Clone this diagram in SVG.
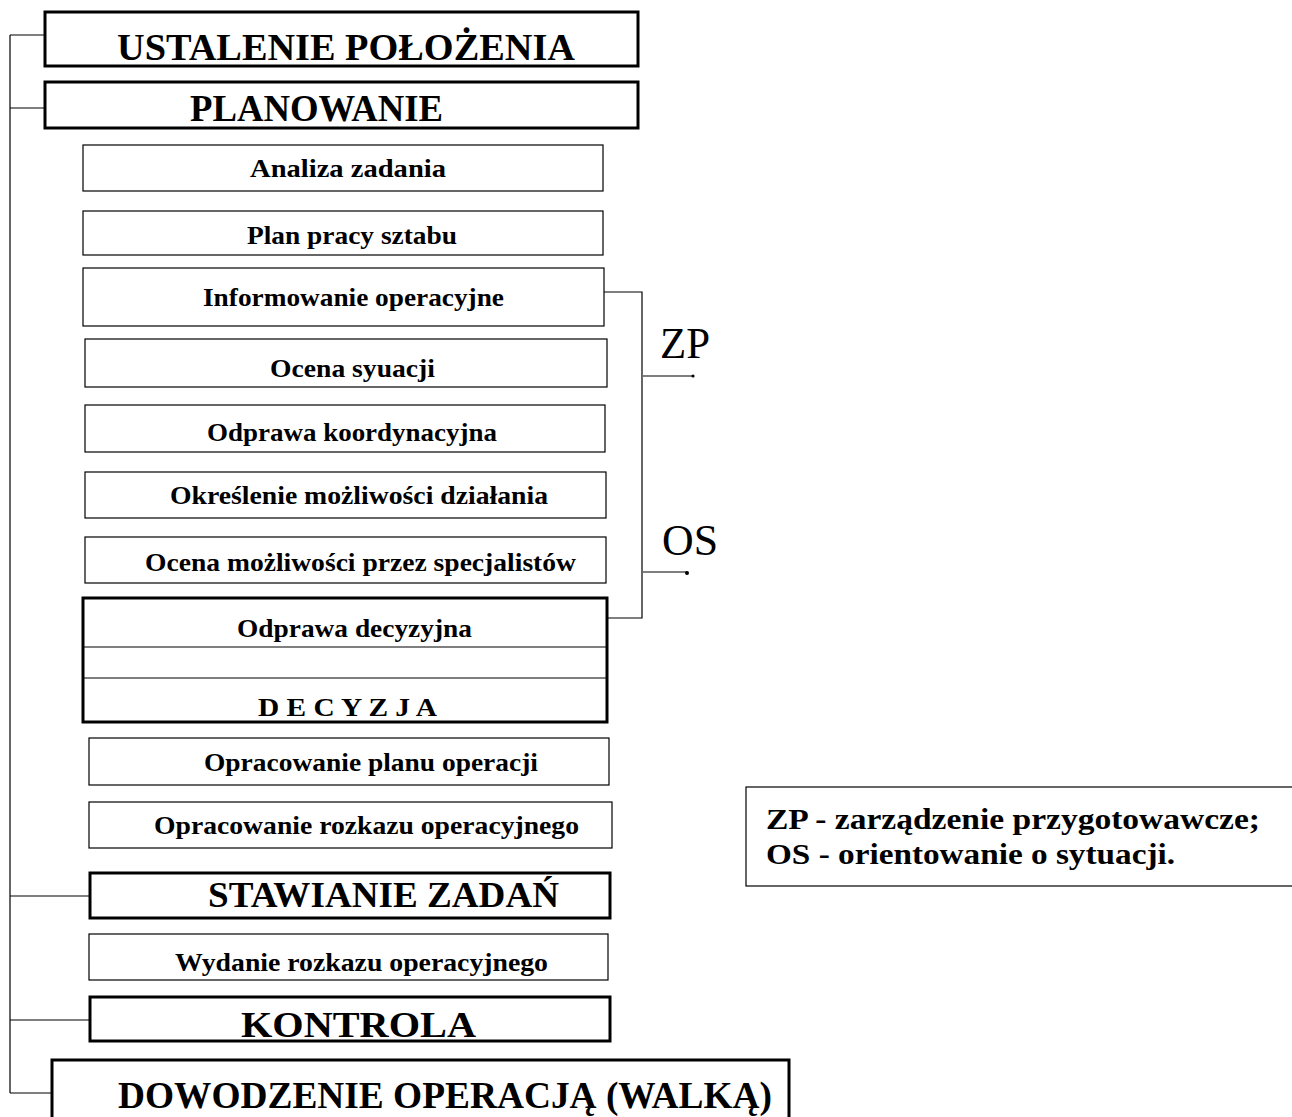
<svg xmlns="http://www.w3.org/2000/svg" width="1292" height="1117" viewBox="0 0 1292 1117">
  <style>
    .box { fill: #fff; stroke: #000; stroke-width: 1.2; }
    .main { fill: #fff; stroke: #000; stroke-width: 3; }
    .conn { fill: none; stroke: #000; stroke-width: 1.2; }
    text { font-family: "Liberation Serif", "Times New Roman", serif; fill: #000; }
    .big { font-weight: bold; font-size: 38px; }
    .sub { font-weight: bold; font-size: 26px; }
    .tag { font-size: 45px; }
    .legend { font-weight: bold; font-size: 30px; }
  </style>
  <rect width="1292" height="1117" fill="#fff"/>

  <!-- connectors: left spine with branches, right bracket ZP / OS -->
  <g id="connectors">
    <path class="conn" d="M10 35 V1093 M10 35 H45 M10 108 H45 M10 896 H90 M10 1020 H90 M10 1093 H52"/>
    <path class="conn" d="M604 292 H642 V618 H607"/>
    <path class="conn" d="M643 376 H693"/>
    <circle cx="693" cy="376" r="1.6" fill="#000"/>
    <path class="conn" d="M643 572 H687"/>
    <circle cx="687" cy="573" r="2" fill="#000"/>
    <text class="tag" x="660" y="358" textLength="50" lengthAdjust="spacingAndGlyphs">ZP</text>
    <text class="tag" x="662" y="555" textLength="56" lengthAdjust="spacingAndGlyphs">OS</text>
  </g>

  <g id="ustalenie">
    <rect class="main" x="45" y="12" width="593" height="54"/>
    <text class="big" x="117" y="60" textLength="458" lengthAdjust="spacingAndGlyphs">USTALENIE  POŁOŻENIA</text>
  </g>
  <g id="planowanie">
    <rect class="main" x="45" y="82" width="593" height="46"/>
    <text class="big" x="190" y="121" textLength="253" lengthAdjust="spacingAndGlyphs">PLANOWANIE</text>
  </g>
  <g id="analiza">
    <rect class="box" x="83" y="145" width="520" height="46"/>
    <text class="sub" x="250" y="177" textLength="196" lengthAdjust="spacingAndGlyphs">Analiza  zadania</text>
  </g>
  <g id="plan-pracy">
    <rect class="box" x="83" y="211" width="520" height="44"/>
    <text class="sub" x="247" y="244" textLength="210" lengthAdjust="spacingAndGlyphs">Plan pracy sztabu</text>
  </g>
  <g id="informowanie">
    <rect class="box" x="83" y="268" width="521" height="58"/>
    <text class="sub" x="203" y="306" textLength="301" lengthAdjust="spacingAndGlyphs">Informowanie operacyjne</text>
  </g>
  <g id="ocena">
    <rect class="box" x="85" y="339" width="522" height="48"/>
    <text class="sub" x="270" y="377" textLength="165" lengthAdjust="spacingAndGlyphs">Ocena syuacji</text>
  </g>
  <g id="odprawa-koord">
    <rect class="box" x="85" y="405" width="520" height="47"/>
    <text class="sub" x="207" y="441" textLength="290" lengthAdjust="spacingAndGlyphs">Odprawa koordynacyjna</text>
  </g>
  <g id="okreslenie">
    <rect class="box" x="85" y="472" width="521" height="46"/>
    <text class="sub" x="170" y="504" textLength="378" lengthAdjust="spacingAndGlyphs">Określenie możliwości działania</text>
  </g>
  <g id="ocena-spec">
    <rect class="box" x="85" y="537" width="521" height="46"/>
    <text class="sub" x="145" y="571" textLength="431" lengthAdjust="spacingAndGlyphs">Ocena możliwości przez specjalistów</text>
  </g>
  <g id="decyzja">
    <rect class="main" x="83" y="598" width="524" height="124"/>
    <path class="conn" d="M84 647 H606 M84 678 H606"/>
    <text class="sub" x="237" y="637" textLength="235" lengthAdjust="spacingAndGlyphs">Odprawa decyzyjna</text>
    <text class="sub" x="258" y="716" textLength="179" lengthAdjust="spacingAndGlyphs">D E C Y Z J A</text>
  </g>
  <g id="plan-operacji">
    <rect class="box" x="89" y="738" width="520" height="47"/>
    <text class="sub" x="204" y="771" textLength="334" lengthAdjust="spacingAndGlyphs">Opracowanie planu operacji</text>
  </g>
  <g id="rozkaz">
    <rect class="box" x="89" y="802" width="523" height="46"/>
    <text class="sub" x="154" y="834" textLength="425" lengthAdjust="spacingAndGlyphs">Opracowanie rozkazu operacyjnego</text>
  </g>
  <g id="stawianie">
    <rect class="main" x="90" y="873" width="520" height="45"/>
    <text class="big" x="208" y="907" textLength="351" lengthAdjust="spacingAndGlyphs" style="font-size:36px">STAWIANIE ZADAŃ</text>
  </g>
  <g id="wydanie">
    <rect class="box" x="89" y="934" width="519" height="46"/>
    <text class="sub" x="175" y="971" textLength="373" lengthAdjust="spacingAndGlyphs">Wydanie rozkazu operacyjnego</text>
  </g>
  <g id="kontrola">
    <rect class="main" x="90" y="997" width="520" height="44"/>
    <text class="big" x="241" y="1037" textLength="235" lengthAdjust="spacingAndGlyphs" style="font-size:36px">KONTROLA</text>
  </g>
  <g id="dowodzenie">
    <rect class="main" x="52" y="1060" width="737" height="62"/>
    <text class="big" x="118" y="1108" textLength="654" lengthAdjust="spacingAndGlyphs">DOWODZENIE OPERACJĄ (WALKĄ)</text>
  </g>

  <g id="legenda">
    <rect class="box" x="746" y="787" width="560" height="99"/>
    <text class="legend" x="766" y="829" textLength="494" lengthAdjust="spacingAndGlyphs">ZP - zarządzenie przygotowawcze;</text>
    <text class="legend" x="766" y="864" textLength="409" lengthAdjust="spacingAndGlyphs">OS - orientowanie o sytuacji.</text>
  </g>
</svg>
